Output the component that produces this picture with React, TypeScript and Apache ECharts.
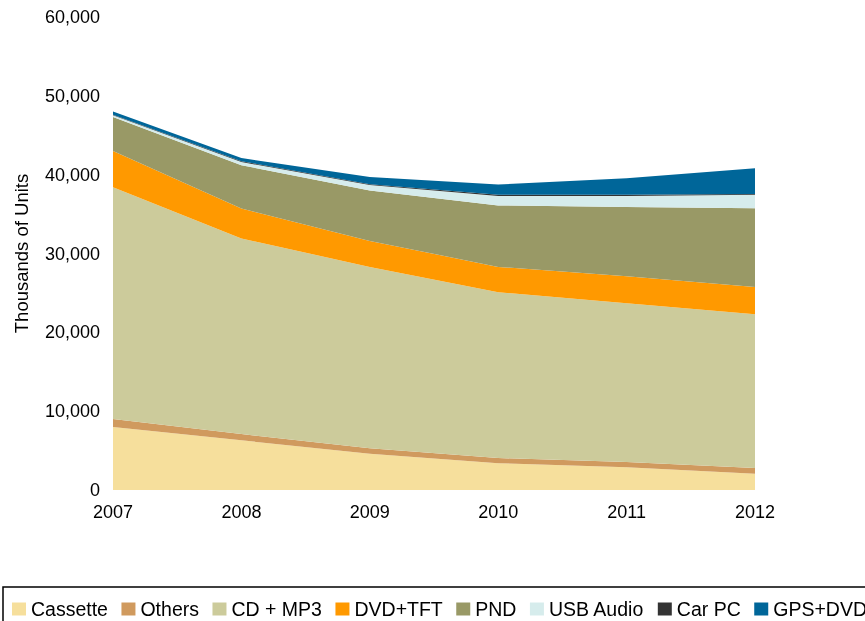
import React, { useEffect, useRef } from "react";
import * as echarts from "echarts";

const years = ["2007", "2008", "2009", "2010", "2011", "2012"];
const cassette = [8000, 6300, 4600, 3400, 2900, 2050];
const others = [1000, 800, 700, 650, 650, 750];
const cdMp3 = [29400, 24800, 23000, 21050, 20150, 19500];
const dvdTft = [4600, 3800, 3300, 3200, 3400, 3450];
const pnd = [4300, 5500, 6400, 7800, 8800, 10000];
const usbAudio = [250, 400, 700, 1200, 1400, 1700];
const carPc = [50, 100, 100, 150, 150, 100];
const gpsDvd = [400, 400, 900, 1300, 2100, 3250];

const seriesNames = ["Cassette", "Others", "CD + MP3", "DVD+TFT", "PND", "USB Audio", "Car PC", "GPS+DVD"];
const seriesData = [cassette, others, cdMp3, dvdTft, pnd, usbAudio, carPc, gpsDvd];
const seriesColors = ["#F6DF9C", "#D09A5E", "#CCCB9B", "#FF9900", "#999966", "#D6ECEC", "#333333", "#006699"];

const FONT = "'Liberation Sans', Arial, sans-serif";

export default function App() {
  const ref = useRef<HTMLDivElement>(null);
  useEffect(() => {
    if (!ref.current) return;
    const chart = echarts.init(ref.current, undefined, { renderer: "svg" });
    chart.setOption({
      animation: false,
      textStyle: { fontFamily: FONT, color: "#000" },
      grid: { left: 113, right: 110, top: 17, bottom: 131 },
      legend: {
        left: 3,
        top: 587,
        width: 1200,
        padding: [12, 9, 12, 9],
        borderColor: "#000",
        borderWidth: 1.5,
        itemGap: 13.5,
        itemWidth: 14,
        itemHeight: 13,
        icon: "rect",
        textStyle: { fontFamily: FONT, fontSize: 19.5, color: "#000" },
        data: seriesNames,
      },
      xAxis: {
        type: "category",
        data: years,
        boundaryGap: false,
        axisLine: { show: false },
        axisTick: { show: false },
        splitLine: { show: false },
        axisLabel: { color: "#000", fontSize: 18, fontFamily: FONT, margin: 13 },
      },
      yAxis: {
        type: "value",
        min: 0,
        max: 60000,
        interval: 10000,
        name: "Thousands of Units",
        nameLocation: "middle",
        nameGap: 82,
        nameTextStyle: { color: "#000", fontSize: 18.5, fontFamily: FONT },
        axisLine: { show: false },
        axisTick: { show: false },
        splitLine: { show: false },
        axisLabel: {
          color: "#000",
          fontSize: 18,
          fontFamily: FONT,
          margin: 13,
          formatter: (v: number) => v.toLocaleString("en-US"),
        },
      },
      series: seriesNames.map((name, i) => ({
        name,
        type: "line",
        stack: "total",
        data: seriesData[i],
        showSymbol: false,
        symbol: "none",
        lineStyle: { width: 0, opacity: 0 },
        itemStyle: { color: seriesColors[i] },
        areaStyle: { color: seriesColors[i], opacity: 1 },
      })),
    });
    return () => chart.dispose();
  }, []);
  return (
    <div
      ref={ref}
      style={{ position: "fixed", left: 0, top: 0, width: 865, height: 621 }}
    />
  );
}
